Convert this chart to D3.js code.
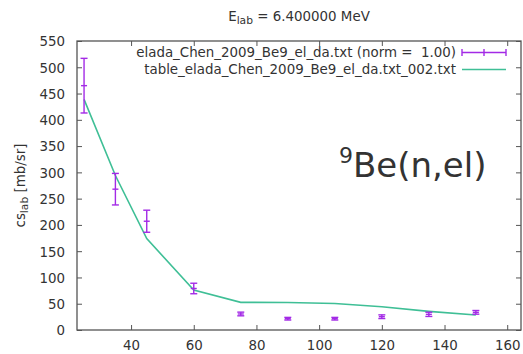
<!DOCTYPE html>
<html><head><meta charset="utf-8">
<script src="https://cdn.jsdelivr.net/npm/d3@7"></script>
<style>
html,body{margin:0;padding:0;background:#fff;}
svg{display:block;}
text{font-family:"DejaVu Sans",sans-serif;fill:#333;white-space:pre;}
</style></head>
<body>
<script>
// Data
const angles      = [25, 35, 45, 60, 75, 90, 105, 120, 135, 150];
const expValues   = [465, 268, 207, 79, 30.5, 21.5, 21.5, 25.3, 29.8, 33.6];
const expErrors   = [52, 30, 21, 10, 3.5, 2.5, 2.5, 3.5, 4, 3.5];
const calcValues  = [439, 294, 174, 76, 52.6, 52.3, 50.5, 44.2, 35.5, 28.5];
const xTicks = [40, 60, 80, 100, 120, 140, 160];
const yTicks = [0, 50, 100, 150, 200, 250, 300, 350, 400, 450, 500, 550];
const legendLabels = ["elada_Chen_2009_Be9_el_da.txt (norm =  1.00)", "table_elada_Chen_2009_Be9_el_da.txt_002.txt"];

const W = 523, H = 354;
const L = 77, R = 521, T = 41, B = 330;
const svg = d3.select("body").append("svg").attr("width", W).attr("height", H);

const x = d3.scaleLinear().domain([22.75, 164.4]).range([L, R]);
const y = d3.scaleLinear().domain([0, 550]).range([B, T]);

const axisColor = "#555";
const fs = 13.4;

// Axes with inward ticks
const gL = svg.append("g").attr("transform", `translate(${L},0)`)
  .call(d3.axisLeft(y).tickValues(yTicks).tickSize(-5).tickPadding(12).tickFormat(d3.format("d")));
const gR = svg.append("g").attr("transform", `translate(${R},0)`)
  .call(d3.axisRight(y).tickValues(yTicks).tickSize(-5).tickFormat(""));
const gB = svg.append("g").attr("transform", `translate(0,${B})`)
  .call(d3.axisBottom(x).tickValues(xTicks).tickSize(-5).tickPadding(10).tickFormat(d3.format("d")));
const gT = svg.append("g").attr("transform", `translate(0,${T})`)
  .call(d3.axisTop(x).tickValues(xTicks).tickSize(-5).tickFormat(""));
[gL, gR, gB, gT].forEach(g => {
  g.select(".domain").remove();
  g.selectAll(".tick line").attr("stroke", axisColor).attr("stroke-width", 1);
  g.selectAll(".tick text").attr("font-size", fs).attr("font-family", "DejaVu Sans").attr("fill", "#333");
});
gL.selectAll(".tick text").attr("dy", "0.36em");
gB.selectAll(".tick text").attr("dy", "0.71em");
gB.selectAll(".tick").filter(d => x(d) > R).remove();
gT.selectAll(".tick").filter(d => x(d) > R).remove();

svg.append("rect").attr("x", L).attr("y", T).attr("width", R - L).attr("height", B - T)
  .attr("fill", "none").attr("stroke", axisColor).attr("stroke-width", 1.3);

// Title
const title = svg.append("text").attr("x", (L + R) / 2).attr("y", 21)
  .attr("text-anchor", "middle").attr("font-size", fs);
title.append("tspan").text("E");
title.append("tspan").attr("font-size", fs * 0.8).attr("dy", 3).text("lab");
title.append("tspan").attr("dy", -3).text(" = 6.400000 MeV");

// Y label
const yl = svg.append("text").attr("transform", `translate(25,${(T + B) / 2}) rotate(-90)`)
  .attr("text-anchor", "middle").attr("font-size", fs);
yl.append("tspan").text("cs");
yl.append("tspan").attr("font-size", fs * 0.8).attr("dy", 3).text("lab");
yl.append("tspan").attr("dy", -3).text(" [mb/sr]");

// Calculation line
const green = "#3fbf96";
svg.append("path").datum(angles.map((a, i) => [a, calcValues[i]]))
  .attr("d", d3.line().x(d => x(d[0])).y(d => y(d[1])))
  .attr("fill", "none").attr("stroke", green).attr("stroke-width", 1.6);

// Error bars
const purple = "#a32ae6";
const eb = svg.append("g").attr("stroke", purple).attr("stroke-width", 1.4).attr("fill", "none");
angles.forEach((a, i) => {
  const cx = x(a), v = expValues[i], e = expErrors[i];
  eb.append("line").attr("x1", cx).attr("x2", cx).attr("y1", y(v - e)).attr("y2", y(v + e));
  eb.append("line").attr("x1", cx - 3.5).attr("x2", cx + 3.5).attr("y1", y(v - e)).attr("y2", y(v - e));
  eb.append("line").attr("x1", cx - 3.5).attr("x2", cx + 3.5).attr("y1", y(v + e)).attr("y2", y(v + e));
  eb.append("line").attr("x1", cx - 3).attr("x2", cx + 3).attr("y1", y(v)).attr("y2", y(v));
});

// Legend
const legTextX = 456, sx1 = 462, sx2 = 506;
const rows = [57, 74];
legendLabels.forEach((lab, i) => {
  svg.append("text").attr("x", legTextX).attr("y", rows[i]).attr("text-anchor", "end")
    .attr("xml:space", "preserve").attr("font-size", fs).text(lab);
});
const ly1 = rows[0] - 4.5;
svg.append("line").attr("x1", sx1).attr("x2", sx2).attr("y1", ly1).attr("y2", ly1).attr("stroke", purple).attr("stroke-width", 1.4);
[sx1, (sx1 + sx2) / 2, sx2].forEach(px => {
  svg.append("line").attr("x1", px).attr("x2", px).attr("y1", ly1 - 3.5).attr("y2", ly1 + 3.5).attr("stroke", purple).attr("stroke-width", 1.4);
});
const ly2 = rows[1] - 4.5;
svg.append("line").attr("x1", sx1).attr("x2", sx2).attr("y1", ly2).attr("y2", ly2).attr("stroke", green).attr("stroke-width", 1.6);

// Annotation
const ann = svg.append("text").attr("x", 339).attr("y", 177).attr("font-family", "Lato, 'Open Sans', sans-serif").attr("fill", "#000").attr("font-size", 34);
ann.append("tspan").attr("font-size", 22).attr("dy", -14).text("9");
ann.append("tspan").attr("dy", 14).text("Be(n,el)");
</script>
</body></html>
